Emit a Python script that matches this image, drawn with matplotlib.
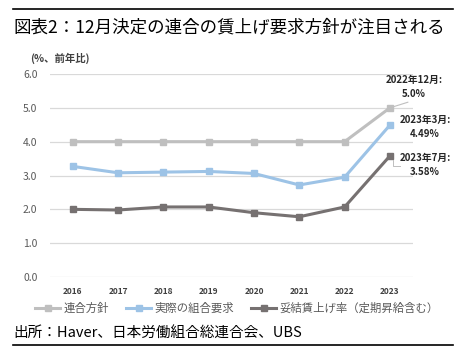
import matplotlib
matplotlib.use("Agg")
import matplotlib.pyplot as plt
from matplotlib.lines import Line2D

plt.rcParams['font.family'] = ['Noto Sans CJK JP', 'DejaVu Sans']

years = ['2016', '2017', '2018', '2019', '2020', '2021', '2022', '2023']
rengo_policy = [4.0, 4.0, 4.0, 4.0, 4.0, 4.0, 4.0, 5.0]
actual_request = [3.27, 3.08, 3.10, 3.12, 3.06, 2.72, 2.95, 4.49]
settled_raise = [2.00, 1.98, 2.07, 2.07, 1.90, 1.78, 2.07, 3.58]
series_names = ['連合方針', '実際の組合要求', '妥結賃上げ率（定期昇給含む）']
yticks = [0.0, 1.0, 2.0, 3.0, 4.0, 5.0, 6.0]
annotations = [('2022年12月:', '5.0%'), ('2023年3月:', '4.49%'), ('2023年7月:', '3.58%')]

colors = ['#BFBFBF', '#9DC3E6', '#767171']

fig = plt.figure(figsize=(4.6, 3.52), dpi=100)
W, H = 460, 352
ax = fig.add_axes([50 / W, 1 - 277 / H, (412.6 - 50) / W, (277 - 74) / H])

x = list(range(len(years)))
for vals, c, name in zip([rengo_policy, actual_request, settled_raise], colors, series_names):
    ax.plot(x, vals, color=c, lw=2.2, marker='s', markersize=4.3, label=name, zorder=3)

ax.set_xlim(-0.5, len(years) - 0.5)
ax.set_ylim(0, 6)
ax.set_yticks(yticks)
ax.set_yticklabels([f'{v:.1f}' for v in yticks], fontsize=7.5, color='#595959')
ax.set_xticks(x)
ax.set_xticklabels(years, fontsize=6, fontweight='bold', color='#404040')
ax.tick_params(axis='y', length=0, pad=9)
ax.tick_params(axis='x', length=0, pad=7)
for s in ax.spines.values():
    s.set_visible(False)
ax.grid(axis='y', color='#D9D9D9', lw=0.9, zorder=0)
ax.set_axisbelow(True)

# annotations
last = len(years) - 1
tcol = '#262626'
ax.annotate(annotations[0][0] + '\n' + annotations[0][1], xy=(last, rengo_policy[-1]),
            xytext=(414 / W, 1 - 87 / H), textcoords='figure fraction',
            ha='center', va='center', fontsize=7, fontweight='bold', color=tcol,
            linespacing=1.6,
            arrowprops=dict(arrowstyle='-', color='#BFBFBF', lw=0.8,
                            shrinkA=0, shrinkB=0, relpos=(0.55, 0.0)))
fig.text(425 / W, 1 - 127 / H, annotations[1][0] + '\n' + annotations[1][1],
         ha='center', va='center', fontsize=7, fontweight='bold', color=tcol, linespacing=1.6)
fig.text(425 / W, 1 - 165 / H, annotations[2][0] + '\n' + annotations[2][1],
         ha='center', va='center', fontsize=7, fontweight='bold', color=tcol, linespacing=1.6)
fig.add_artist(Line2D([393 / W, 393 / W, 400 / W], [1 - 160 / H, 1 - 166 / H, 1 - 166 / H],
                      color='#BFBFBF', lw=0.7))

# legend
handles, labels = ax.get_legend_handles_labels()
fig.legend(handles, labels, loc='center', bbox_to_anchor=(237 / W, 1 - 308 / H),
           ncol=3, frameon=False, fontsize=8.2, handlelength=2.2, handletextpad=0.3,
           columnspacing=1.5, labelcolor='#595959')

# title, ylabel, footer, rules
fig.text(13 / W, 1 - 27 / H, '図表2：12月決定の連合の賃上げ要求方針が注目される',
         fontsize=12.6, ha='left', va='center', color='black')
fig.text(30 / W, 1 - 58 / H, '(%、前年比)', fontsize=7.5, fontweight='bold',
         ha='left', va='center', color='#404040')
fig.text(13 / W, 1 - 333 / H, '出所：Haver、日本労働組合総連合会、UBS',
         fontsize=10.5, ha='left', va='center', color='black')
fig.add_artist(Line2D([13 / W, 453 / W], [1 - 9 / H, 1 - 9 / H], color='black', lw=1.2))
fig.add_artist(Line2D([13 / W, 453 / W], [1 - 345 / H, 1 - 345 / H], color='black', lw=1.2))

fig.savefig('out.png', dpi=100)
